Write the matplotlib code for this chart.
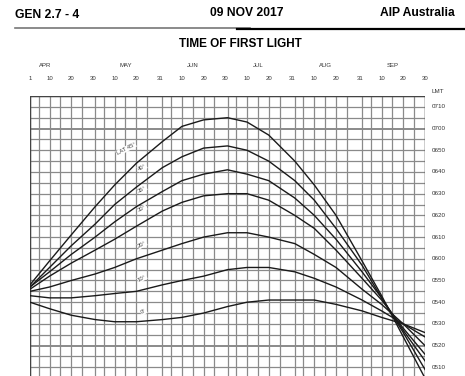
import matplotlib
matplotlib.use("Agg")
import matplotlib.pyplot as plt
from matplotlib.lines import Line2D
import numpy as np

plt.rcParams['font.family'] = ['Liberation Sans', 'DejaVu Sans']

# sample dates (month index from APR=0, day of month)
months = ['APR', 'MAY', 'JUN', 'JUL', 'AUG', 'SEP']
month_len = [30, 31, 30, 31, 31, 30]
sample_dates = [(0, 1), (0, 10), (0, 20), (1, 1), (1, 10), (1, 20), (2, 1), (2, 10), (2, 20),
                (3, 1), (3, 10), (3, 20), (4, 1), (4, 10), (4, 20), (5, 1), (5, 10), (5, 20), (5, 30)]

# time of first light, minutes after midnight LMT, per latitude
lat_labels = ['LAT 45°', '40°', '35°', '30°', '20°', '10°', '0°']
lat45 = [348, 359, 371, 384, 394, 404, 414, 421, 424, 425, 423, 417, 405, 394, 380, 359, 343, 324, 305]
lat40 = [347, 356, 366, 376, 385, 393, 402, 407, 411, 412, 410, 405, 396, 387, 374, 357, 342, 326, 309]
lat35 = [347, 354, 362, 370, 377, 384, 391, 396, 399, 401, 399, 396, 388, 380, 369, 354, 342, 327, 313]
lat30 = [346, 352, 358, 364, 369, 375, 382, 386, 389, 390, 390, 387, 380, 374, 364, 351, 341, 328, 316]
lat20 = [345, 347, 350, 353, 356, 360, 364, 367, 370, 372, 372, 370, 367, 362, 356, 346, 339, 330, 320]
lat10 = [343, 342, 342, 343, 344, 345, 348, 350, 352, 355, 356, 356, 354, 351, 347, 341, 336, 330, 324]
lat0 = [340, 337, 334, 332, 331, 331, 332, 333, 335, 338, 340, 341, 341, 341, 339, 336, 333, 330, 326]
curves = [lat45, lat40, lat35, lat30, lat20, lat10, lat0]

# top tick labels
day_ticks = [(0, 1), (0, 10), (0, 20), (0, 30), (1, 10), (1, 20), (1, 31), (2, 10), (2, 20), (2, 30),
             (3, 10), (3, 20), (3, 31), (4, 10), (4, 20), (4, 31), (5, 10), (5, 20), (5, 30)]
time_labels = ['0710', '0700', '0650', '0640', '0630', '0620', '0610',
               '0600', '0550', '0540', '0530', '0520', '0510']

month_start = np.concatenate([[0], np.cumsum(month_len)[:-1]])


def day_pos(m, d):
    return month_start[m] + d - 1


fig = plt.figure(figsize=(4.65, 3.76), dpi=100)
ax = fig.add_axes([30 / 465, 0, 395 / 465, 280 / 376])
ax.set_xlim(0, 182)
ax.set_ylim(306, 435)

# grid
vlines = []
for m, n in enumerate(month_len):
    for d in [1, 5, 10, 15, 20, 25]:
        vlines.append(day_pos(m, d))
vlines.append(182)
for v in vlines:
    ax.axvline(v, color='#8a8a8a', lw=0.9, zorder=1)
for t in range(305, 436, 5):
    lw = 1.4 if t in (320, 420) else 0.9
    ax.axhline(t, color='#8a8a8a', lw=lw, zorder=1)

x = [day_pos(m, d) for m, d in sample_dates]
for vals, lab in zip(curves, lat_labels):
    ax.plot(x, vals, color='#1a1a1a', lw=1.0, zorder=3)
    lx = 50 if lab.startswith('LAT') else 55
    ly = np.interp(lx, x, vals)
    ax.text(lx - 1, ly + 2.5, lab, fontsize=4.2, color='#444444', rotation=28,
            ha='right', va='bottom', zorder=4,
            bbox=dict(facecolor='white', edgecolor='none', pad=0.3))

ax.set_xticks([])
ax.set_yticks([])
for s in ax.spines.values():
    s.set_visible(False)
ax.axvline(0, color='#444444', lw=1.0)
ax.axvline(182, color='#444444', lw=1.0)
ax.axhline(435, color='#444444', lw=1.0)

# top axis labels
for m, d in day_ticks:
    ax.text(day_pos(m, d), 442, str(d), fontsize=4.3, ha='center', va='bottom', color='#333333')
for m, name in enumerate(months):
    cx = day_pos(m, 8) if m == 0 else day_pos(m, 15)
    ax.text(cx, 448, name, fontsize=4.3, ha='center', va='bottom', color='#333333')

# right time labels
ax.text(185, 437, 'LMT', fontsize=4.5, ha='left', va='center', color='#333333')
for i, lab in enumerate(time_labels):
    ax.text(185, 430 - 10 * i, lab, fontsize=4.5, ha='left', va='center', color='#333333')

# header
fig.text(15 / 465, 1 - 15 / 376, 'GEN 2.7 - 4', fontsize=8.7, fontweight='bold', ha='left', va='center')
fig.text(247 / 465, 1 - 13 / 376, '09 NOV 2017', fontsize=8.7, fontweight='bold', ha='center', va='center')
fig.text(380 / 465, 1 - 13 / 376, 'AIP Australia', fontsize=8.7, fontweight='bold', ha='left', va='center')
fig.add_artist(Line2D([15 / 465, 250 / 465], [1 - 28 / 376] * 2, color='#777777', lw=1.2))
fig.add_artist(Line2D([237 / 465, 1], [1 - 28.5 / 376] * 2, color='black', lw=1.6))
fig.text(240 / 465, 1 - 44 / 376, 'TIME OF FIRST LIGHT', fontsize=8.5, fontweight='bold',
         ha='center', va='center')

fig.savefig('out.png', dpi=100)
